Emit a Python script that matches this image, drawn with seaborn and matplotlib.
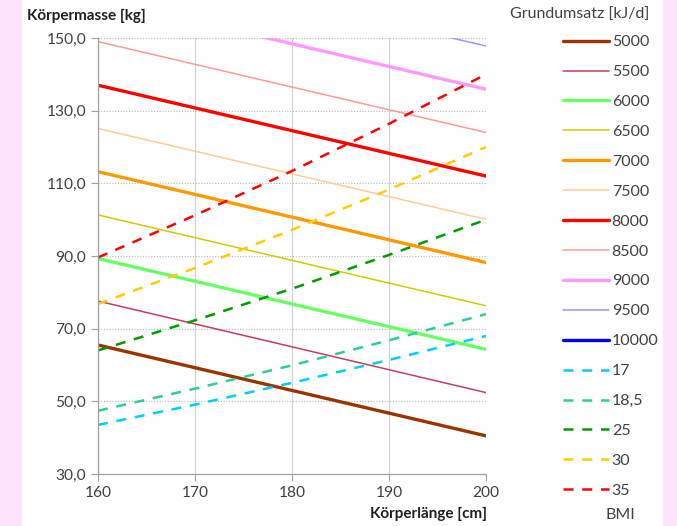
import matplotlib
matplotlib.use("Agg")
import matplotlib.pyplot as plt
import seaborn as sns
import pandas as pd
from matplotlib.patches import Rectangle
from matplotlib.lines import Line2D

sns.set_style("white")
plt.rcParams['font.family'] = ['Lato', 'DejaVu Sans']

# Grundumsatz lines (kJ/d): body mass at 160 cm and 200 cm
bmr_labels = ["5000", "5500", "6000", "6500", "7000", "7500", "8000", "8500", "9000", "9500", "10000"]
bmr_x = [160, 200]
bmr_at160 = [65.5, 77.6, 89.3, 101.3, 113.2, 125.1, 137.0, 149.0, 160.9, 172.8, 184.7]
bmr_at200 = [40.5, 52.4, 64.3, 76.3, 88.2, 100.1, 112.0, 124.0, 135.9, 147.8, 159.7]
bmr_colors = ["#993300", "#C0405A", "#66FF66", "#CCCC00", "#FF9900", "#FFCC99",
              "#FF0000", "#FF9999", "#FF99FF", "#9999FF", "#0000FF"]
bmr_widths = [2.4, 1.1, 2.4, 1.1, 2.4, 1.1, 2.4, 1.1, 2.4, 1.1, 2.4]

# BMI lines: body mass at heights 160..200 cm
bmi_labels = ["17", "18,5", "25", "30", "35"]
bmi_x = [160, 170, 180, 190, 200]
bmi_vals = [
    [43.5, 49.1, 55.1, 61.4, 68.0],
    [47.4, 53.5, 59.9, 66.8, 74.0],
    [64.0, 72.3, 81.0, 90.3, 100.0],
    [76.8, 86.7, 97.2, 108.3, 120.0],
    [89.6, 101.2, 113.4, 126.4, 140.0],
]
bmi_colors = ["#00CCFF", "#2ECC9A", "#009900", "#FFCC00", "#FF0000"]

x_ticks = [160, 170, 180, 190, 200]
y_ticks = [30, 50, 70, 90, 110, 130, 150]
y_tick_labels = ["30,0", "50,0", "70,0", "90,0", "110,0", "130,0", "150,0"]

W, H = 677, 526
fig = plt.figure(figsize=(W / 100, H / 100), dpi=100)
fig.patch.set_facecolor("white")
pink = "#FCE4FC"
fig.patches.append(Rectangle((0, 0), 21 / W, 1, transform=fig.transFigure, color=pink, zorder=0))
fig.patches.append(Rectangle((663 / W, 0), 14 / W, 1, transform=fig.transFigure, color=pink, zorder=0))

ax = fig.add_axes([98 / W, 1 - 474 / H, (486 - 98) / W, (474 - 38) / H])
ax.set_facecolor("none")

handles = []
for lab, a, b, c, w in zip(bmr_labels, bmr_at160, bmr_at200, bmr_colors, bmr_widths):
    df = pd.DataFrame({"x": bmr_x, "y": [a, b]})
    sns.lineplot(data=df, x="x", y="y", color=c, lw=w, ax=ax, legend=False)
    handles.append(Line2D([], [], color=c, lw=w, label=lab))
for lab, vals, c in zip(bmi_labels, bmi_vals, bmi_colors):
    df = pd.DataFrame({"x": bmi_x, "y": vals})
    sns.lineplot(data=df, x="x", y="y", color=c, lw=1.8, ls=(0, (4, 3.5)), ax=ax, legend=False)
    handles.append(Line2D([], [], color=c, lw=1.8, ls=(0, (4, 3.5)), label=lab))

ax.set_xlim(160, 200)
ax.set_ylim(30, 150)
ax.set_xticks(x_ticks)
ax.set_xticklabels([str(v) for v in x_ticks])
ax.set_yticks(y_ticks)
ax.set_yticklabels(y_tick_labels)
ax.set_xlabel("")
ax.set_ylabel("")
ax.tick_params(axis="both", labelsize=11.2, colors="#404040", length=5, width=0.8,
               direction="out", bottom=True, left=True)
ax.tick_params(axis="both", color="#A0A0A0")
for s in ["top", "right"]:
    ax.spines[s].set_visible(False)
for s in ["left", "bottom"]:
    ax.spines[s].set_color("#A0A0A0")
    ax.spines[s].set_linewidth(0.9)
ax.xaxis.grid(True, color="#D0D0D0", lw=0.8, ls="-")
ax.yaxis.grid(True, color="#B8B8B8", lw=0.8, ls=(0, (1, 1.5)))
ax.set_axisbelow(True)

fig.text(27 / W, 1 - 16 / H, "Körpermasse [kg]", fontsize=11, fontweight="bold",
         color="#202020", va="center", ha="left")
fig.text(487 / W, 1 - 514 / H, "Körperlänge [cm]", fontsize=11, fontweight="bold",
         color="#202020", va="center", ha="right")
fig.text(580 / W, 1 - 15 / H, "Grundumsatz [kJ/d]", fontsize=11.5, color="#404040",
         va="center", ha="center")
fig.text(620 / W, 1 - 515 / H, "BMI", fontsize=11.5, color="#404040",
         va="center", ha="center")

leg = fig.legend(handles=handles, loc="upper left", bbox_to_anchor=(563 / W, 1 - 35 / H),
                 frameon=False, fontsize=11.5, handlelength=2.85, handletextpad=0.2,
                 labelspacing=0.985, borderaxespad=0, borderpad=0)
for t in leg.get_texts():
    t.set_color("#404040")

fig.savefig("out.png", dpi=100)
